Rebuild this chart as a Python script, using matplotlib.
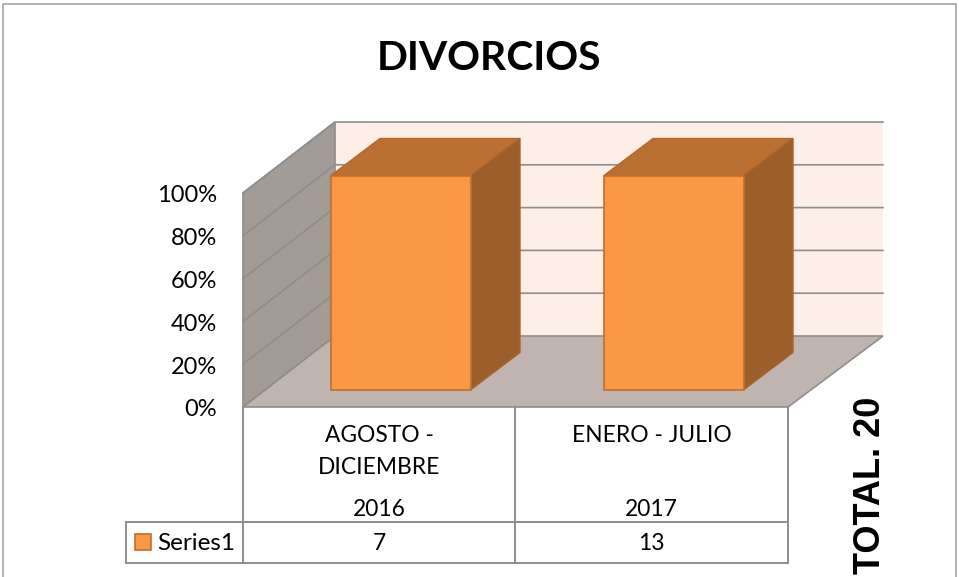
import matplotlib
matplotlib.use('Agg')
import matplotlib.pyplot as plt
from matplotlib.patches import Polygon, Rectangle

title = 'DIVORCIOS'
side_note = 'TOTAL. 20'
series_name = 'Series1'
categories = ['AGOSTO -\nDICIEMBRE', 'ENERO - JULIO']
years = ['2016', '2017']
table_values = ['7', '13']
bar_pct = [100, 100]
y_ticks = [0, 20, 40, 60, 80, 100]

# layout in pixels, the whole figure is one axes
X0, X1 = 243, 788
Y0, PX_PCT = 407, 2.14
DX, DY = 92, -71
BAR_LEFT = [331, 604]
BAR_W = 140
BAR_DEPTH = (49, -37)
BAR_BASE = 389.5
GRID = '#8e8e8e'
FS_TICK = 17
FS_TABLE = 16.4

plt.rcParams['font.family'] = ['Lato', 'DejaVu Sans']
fig = plt.figure(figsize=(9.59, 5.77), dpi=100)
ax = fig.add_axes([0, 0, 1, 1])
ax.set_xlim(0, 959)
ax.set_ylim(577, 0)
ax.axis('off')

def y_of(p):
    return Y0 - p * PX_PCT

# outer frame, bottom edge is cut off
ax.plot([3, 3, 956, 956], [577, 4, 4, 577], color='#a6a6a6', lw=1.2)

ax.text(489, 59, title, fontsize=29.3, fontweight='bold', ha='center', va='center', color='black')

# back wall, side wall, floor
ax.add_patch(Polygon([(X0 + DX, y_of(0) + DY), (X1 + DX + 3, y_of(0) + DY),
                      (X1 + DX + 3, y_of(100) + DY), (X0 + DX, y_of(100) + DY)],
                     fc='#fdefe7', ec='none', zorder=1))
ax.add_patch(Polygon([(X0, y_of(0)), (X0 + DX, y_of(0) + DY),
                      (X0 + DX, y_of(100) + DY), (X0, y_of(100))],
                     fc='#a39b96', ec=GRID, lw=1.2, zorder=1))
ax.add_patch(Polygon([(X0, y_of(0)), (X1, y_of(0)),
                      (X1 + DX + 3, y_of(0) + DY), (X0 + DX, y_of(0) + DY)],
                     fc='#bfb4b0', ec=GRID, lw=1.2, zorder=1))

for t in y_ticks:
    y = y_of(t)
    if t > 0:
        ax.plot([X0, X0 + DX, X1 + DX + 3], [y, y + DY, y + DY], color=GRID, lw=1.2, zorder=2)
    ax.text(217, y + 3, f'{t}%', fontsize=FS_TICK, ha='right', va='center', color='black')

# bars go over the grid
for left, p in zip(BAR_LEFT, bar_pct):
    top = BAR_BASE - p * PX_PCT
    right = left + BAR_W
    dx, dy = BAR_DEPTH
    ax.add_patch(Polygon([(left, top), (right, top), (right + dx, top + dy), (left + dx, top + dy)],
                         fc='#b97032', ec='#b5692c', lw=1, zorder=3))
    ax.add_patch(Polygon([(right, top), (right + dx, top + dy), (right + dx, BAR_BASE + dy), (right, BAR_BASE)],
                         fc='#9c5f2b', ec='#a8642b', lw=1, zorder=3))
    ax.add_patch(Rectangle((left, top), BAR_W, BAR_BASE - top, fc='#fb9845', ec='#c0702f', lw=1.2, zorder=3))

# data table under the plot
ROW1, ROW2 = 522, 563
MID = 515
LEGEND_L = 126
for xs, ys in [([X0, X0], [Y0, ROW2]), ([MID, MID], [Y0, ROW2]), ([X1, X1], [Y0, ROW2]),
               ([LEGEND_L, X1], [ROW1, ROW1]), ([LEGEND_L, X1], [ROW2, ROW2]),
               ([LEGEND_L, LEGEND_L], [ROW1, ROW2])]:
    ax.plot(xs, ys, color=GRID, lw=1.4, solid_capstyle='projecting')

centers = [(X0 + MID) / 2, (MID + X1) / 2]
for c, cat, yr, val in zip(centers, categories, years, table_values):
    ax.text(c, 435, cat.split('\n')[0], fontsize=FS_TABLE, ha='center', va='center', color='black')
    if '\n' in cat:
        ax.text(c, 468, cat.split('\n')[1], fontsize=FS_TABLE, ha='center', va='center', color='black')
    ax.text(c, 509, yr, fontsize=FS_TABLE, ha='center', va='center', color='black')
    ax.text(c, 544, val, fontsize=FS_TABLE, ha='center', va='center', color='black')

ax.add_patch(Rectangle((135, 534), 16, 16, fc='#fb9845', ec='#c0702f', lw=1.2))
ax.text(157, 544, series_name, fontsize=17.5, ha='left', va='center', color='black')

ax.text(870, 485, side_note, fontsize=26, fontweight='bold', rotation=90, ha='center', va='center',
        family='Liberation Sans', color='black')

fig.savefig('out.png', dpi=100)
